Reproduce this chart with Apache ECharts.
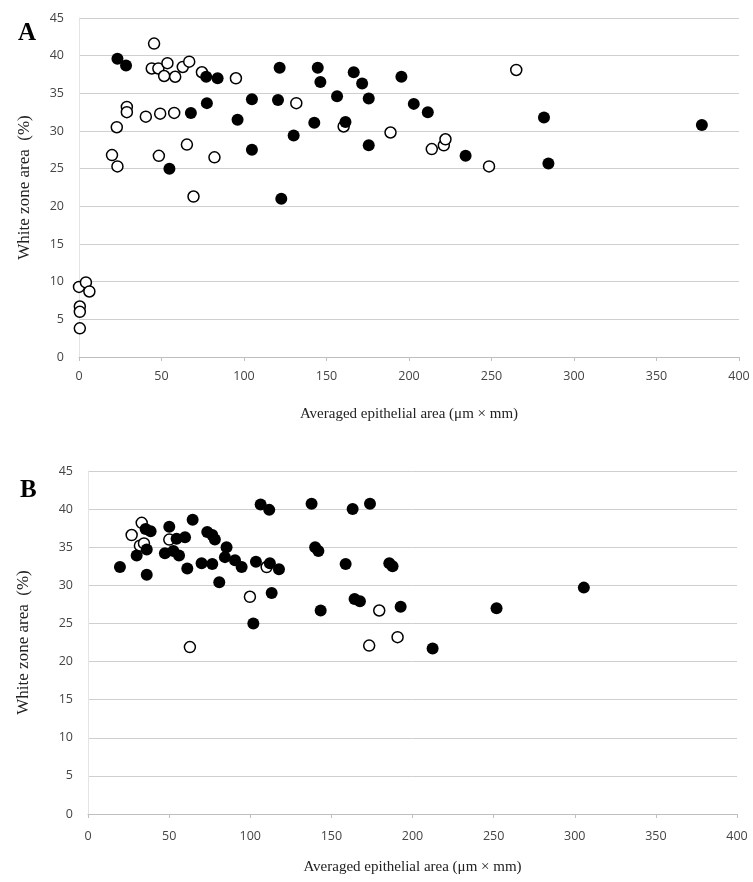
<!DOCTYPE html>
<html>
<head>
<meta charset="utf-8">
<script src="https://cdn.jsdelivr.net/npm/echarts@6/dist/echarts.min.js"></script>
<style>
html,body{margin:0;padding:0;background:#fff;}
#chart{width:753px;height:882px;}
</style>
</head>
<body>
<div id="chart"></div>
<script>
// Panel A data [x, y]
var aOpen = [[45.5,41.6],[44.1,38.3],[48.1,38.3],[53.6,39.0],[51.6,37.3],[58.3,37.2],[62.9,38.5],[66.8,39.2],[74.5,37.8],[95.1,37.0],[29,33.2],[29,32.5],[40.5,31.9],[49.2,32.3],[57.7,32.4],[22.9,30.5],[20,26.8],[23.3,25.3],[48.4,26.7],[65.4,28.2],[82.1,26.5],[69.4,21.3],[0,9.3],[4.2,9.9],[6.3,8.7],[0.5,6.7],[0.5,6.0],[0.5,3.8],[131.7,33.7],[160.4,30.6],[188.8,29.8],[213.8,27.6],[221.1,28.1],[222.1,28.9],[248.5,25.3],[265,38.1]];
var aFilled = [[23.3,39.6],[28.5,38.7],[77.1,37.2],[84,37.0],[77.5,33.7],[67.8,32.4],[96.1,31.5],[104.8,34.2],[104.8,27.5],[54.8,25.0],[121.6,38.4],[144.7,38.4],[146.3,36.5],[166.5,37.8],[171.6,36.3],[156.4,34.6],[175.6,34.3],[195.4,37.2],[120.6,34.1],[142.6,31.1],[161.5,31.2],[130.1,29.4],[175.6,28.1],[202.9,33.6],[211.4,32.5],[234.3,26.7],[122.6,21.0],[281.8,31.8],[377.5,30.8],[284.5,25.7]];
// Panel B data [x, y]
var bOpen = [[26.9,36.6],[33.1,38.2],[32,35.2],[34.5,35.5],[50.1,36.0],[99.8,28.5],[62.8,21.9],[110.1,32.4],[179.5,26.7],[190.8,23.2],[173.3,22.1]];
var bFilled = [[19.7,32.4],[30,33.9],[35.5,37.4],[38.6,37.1],[36.2,34.7],[36.2,31.4],[50.1,37.7],[47.4,34.2],[52.6,34.5],[56.1,33.9],[54.6,36.1],[59.8,36.3],[61.2,32.2],[64.5,38.6],[73.5,37.0],[76.6,36.6],[78.2,36.0],[70,32.9],[76.6,32.8],[80.9,30.4],[85.4,35.0],[84.4,33.7],[90.6,33.3],[94.7,32.4],[103.5,33.1],[101.9,25.0],[106.4,40.6],[111.7,39.9],[137.8,40.7],[163.1,40.0],[173.8,40.7],[140,35.0],[142,34.5],[112.1,32.9],[117.7,32.1],[158.8,32.8],[185.7,32.9],[187.7,32.5],[113.2,29.0],[143.4,26.7],[164.3,28.2],[167.6,27.9],[192.7,27.2],[251.8,27.0],[212.4,21.7],[305.6,29.7]];

var panelLabels = ['A','B'];
var xName = 'Averaged epithelial area (\u03bcm \u00d7 mm)';
var yName = 'White zone area  (%)';

var chart = echarts.init(document.getElementById('chart'));
var serif = '"Liberation Serif","DejaVu Serif",serif';
var sans = '"Open Sans","Liberation Sans",sans-serif';

function xAxis(idx, gap, margin){
  return {
    type:'value', gridIndex:idx, min:0, max:400, interval:50,
    name:xName, nameLocation:'middle', nameGap:gap,
    nameTextStyle:{fontFamily:serif, fontSize:15, color:'#222'},
    axisLine:{show:true, lineStyle:{color:'#bfbfbf', width:1}},
    axisTick:{show:true, length:4, lineStyle:{color:'#bfbfbf'}},
    axisLabel:{fontFamily:sans, fontSize:12.5, color:'#444', margin:margin},
    splitLine:{show:false}
  };
}
function yAxis(idx, gap){
  return {
    type:'value', gridIndex:idx, min:0, max:45, interval:5,
    name:yName, nameLocation:'middle', nameGap:gap,
    nameTextStyle:{fontFamily:serif, fontSize:17, color:'#222'},
    axisLine:{show:true, lineStyle:{color:'#e3e3e3', width:1}},
    axisTick:{show:false},
    axisLabel:{fontFamily:sans, fontSize:12.5, color:'#444', margin:15},
    splitLine:{show:true, lineStyle:{color:'#cfcfcf', width:1}}
  };
}
function openSeries(data, i){
  return {type:'scatter', xAxisIndex:i, yAxisIndex:i, data:data, symbol:'circle', symbolSize:11,
    itemStyle:{color:'#fff', borderColor:'#000', borderWidth:1.5, opacity:1}, z:2};
}
function filledSeries(data, i){
  return {type:'scatter', xAxisIndex:i, yAxisIndex:i, data:data, symbol:'circle', symbolSize:12,
    itemStyle:{color:'#000', borderColor:'#000', borderWidth:0, opacity:1}, z:3};
}

chart.setOption({
  animation:false,
  backgroundColor:'#fff',
  title:[
    {text:panelLabels[0], left:13, top:16, textStyle:{fontFamily:serif, fontWeight:'bold', fontSize:25, color:'#000'}},
    {text:panelLabels[1], left:15, top:473, textStyle:{fontFamily:serif, fontWeight:'bold', fontSize:25, color:'#000'}}
  ],
  grid:[
    {left:79, right:14, top:18, height:339},
    {left:88, right:16, top:471, height:343}
  ],
  xAxis:[xAxis(0, 50, 13), xAxis(1, 46, 16)],
  yAxis:[yAxis(0, 46), yAxis(1, 56)],
  series:[
    openSeries(aOpen, 0), filledSeries(aFilled, 0),
    openSeries(bOpen, 1), filledSeries(bFilled, 1)
  ]
});
</script>
</body>
</html>
